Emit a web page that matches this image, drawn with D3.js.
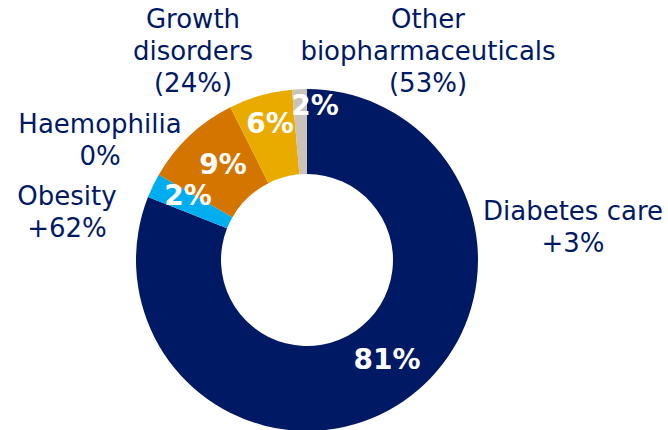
<!DOCTYPE html>
<html>
<head>
<meta charset="utf-8">
<script src="https://cdn.jsdelivr.net/npm/d3@7"></script>
<style>
html,body{margin:0;padding:0;background:#fff;}
svg{display:block;}
</style>
</head>
<body>
<svg id="chart" width="668" height="430"></svg>
<script>
// Data (clockwise from 12 o'clock)
const categories = ["Diabetes care", "Obesity", "Haemophilia", "Growth disorders", "Other biopharmaceuticals"];
const shares = [81.0, 2.3, 9.3, 6.0, 1.4];           // arc sizes
const shareLabels = ["81%", "2%", "9%", "6%", "2%"];  // printed labels
const growthLabels = ["+3%", "+62%", "0%", "(24%)", "(53%)"];
const colors = ["#001965", "#00AEEF", "#D47500", "#EAAB00", "#C9C3BA"];

// Label layout (category name lines + growth line)
const nameLines = [["Diabetes care"], ["Obesity"], ["Haemophilia"], ["Growth", "disorders"], ["Other", "biopharmaceuticals"]];
const nameX = [573, 67, 100, 193, 428];
const nameY = [220, 205, 133, 28, 28];
const pctPos = [[387, 369], [188, 205], [223, 174], [270, 133], [315, 115]];

const svg = d3.select("#chart");
const cx = 307, cy = 260, R = 171, r = 86;
const g = svg.append("g").attr("transform", `translate(${cx},${cy})`);

const pie = d3.pie().sort(null).value(d => d);
const arc = d3.arc().innerRadius(r).outerRadius(R);
const arcs = pie(shares);

g.selectAll("path").data(arcs).join("path")
  .attr("d", arc)
  .attr("fill", (d, i) => colors[i]);

// percent labels
svg.selectAll("text.pct").data(arcs).join("text")
  .attr("class", "pct")
  .attr("x", (d, i) => pctPos[i][0])
  .attr("y", (d, i) => pctPos[i][1])
  .attr("text-anchor", "middle")
  .attr("font-family", "DejaVu Sans, Verdana, sans-serif")
  .attr("font-weight", "bold")
  .attr("font-size", 28)
  .attr("fill", "#fff")
  .text((d, i) => shareLabels[i]);

// category labels
const lineH = 32;
categories.forEach((c, i) => {
  const t = svg.append("text")
    .attr("text-anchor", "middle")
    .attr("font-family", "DejaVu Sans, Verdana, sans-serif")
    .attr("font-size", 26)
    .attr("fill", "#001965");
  const lines = nameLines[i].concat([growthLabels[i]]);
  lines.forEach((l, j) => {
    t.append("tspan").attr("x", nameX[i]).attr("y", nameY[i] + j * lineH).text(l);
  });
});
</script>
</body>
</html>
